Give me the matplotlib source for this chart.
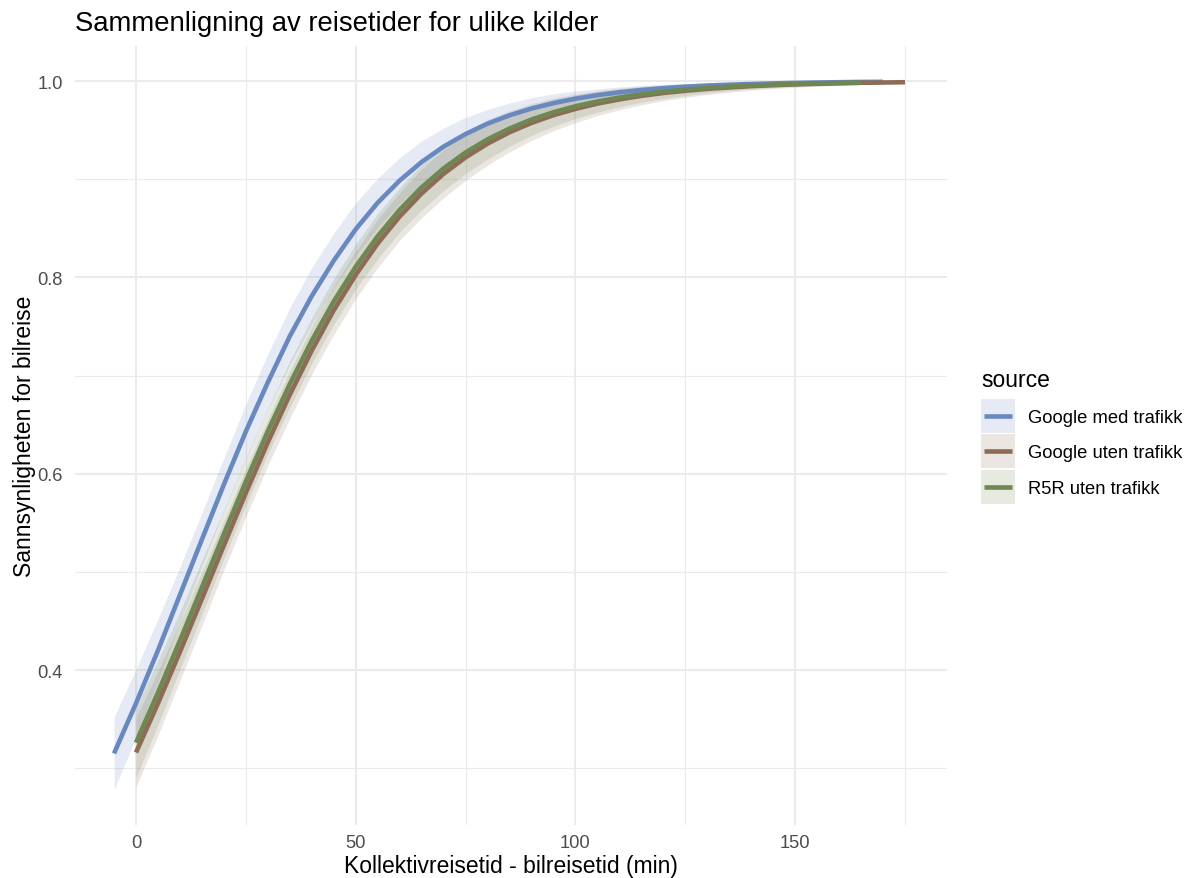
import matplotlib
matplotlib.use("Agg")
import matplotlib.pyplot as plt
from matplotlib.patches import Rectangle
from matplotlib.lines import Line2D
import numpy as np

plt.rcParams['font.family'] = ['Liberation Sans', 'DejaVu Sans']

title = "Sammenligning av reisetider for ulike kilder"
x_label = "Kollektivreisetid - bilreisetid (min)"
y_label = "Sannsynligheten for bilreise"
legend_title = "source"
sources = ["Google med trafikk", "Google uten trafikk", "R5R uten trafikk"]
colors = ["#6A88C0", "#8D6B55", "#6F8752"]

# Google med trafikk
x_gmt = [-5, 0, 5, 10, 15, 20, 25, 30, 35, 40, 45, 50, 55, 60, 65, 70, 75, 80, 85,
         90, 95, 100, 105, 110, 115, 120, 125, 130, 135, 140, 145, 150, 155, 160, 165, 170]
y_gmt = [0.315, 0.366, 0.420, 0.4765, 0.533, 0.589, 0.643, 0.693, 0.740, 0.781, 0.817,
         0.849, 0.876, 0.8986, 0.9175, 0.9332, 0.946, 0.9566, 0.9651, 0.972, 0.9775,
         0.982, 0.9856, 0.9885, 0.9908, 0.9927, 0.9942, 0.9954, 0.9963, 0.9970, 0.9976,
         0.9981, 0.9985, 0.9988, 0.9991, 0.9992]
lo_gmt = [0.278, 0.331, 0.388, 0.448, 0.506, 0.562, 0.615, 0.665, 0.711, 0.752, 0.789,
          0.822, 0.851, 0.875, 0.896, 0.914, 0.929, 0.942, 0.9525, 0.961, 0.968,
          0.974, 0.979, 0.983, 0.986, 0.9887, 0.9909, 0.9927, 0.9940, 0.9951, 0.9960,
          0.9968, 0.9974, 0.9979, 0.9984, 0.9986]
hi_gmt = [0.352, 0.401, 0.452, 0.505, 0.560, 0.616, 0.671, 0.722, 0.769, 0.810, 0.845,
          0.876, 0.901, 0.922, 0.939, 0.952, 0.963, 0.971, 0.9777, 0.983, 0.987,
          0.990, 0.992, 0.994, 0.9956, 0.9967, 0.9975, 0.9981, 0.9986, 0.9989, 0.9992,
          0.9994, 0.9996, 0.9997, 0.9998, 0.9998]

# Google uten trafikk
x_gut = [0, 5, 10, 15, 20, 25, 30, 35, 40, 45, 50, 55, 60, 65, 70, 75, 80, 85, 90,
         95, 100, 105, 110, 115, 120, 125, 130, 135, 140, 145, 150, 155, 160, 165, 170, 175]
y_gut = [0.3160, 0.3660, 0.4185, 0.4725, 0.5270, 0.5805, 0.6320, 0.6805, 0.7255, 0.7665,
         0.8025, 0.8345, 0.8620, 0.8855, 0.9055, 0.9222, 0.9362, 0.9478, 0.9573, 0.9652,
         0.9716, 0.9770, 0.9813, 0.9849, 0.9878, 0.9901, 0.9920, 0.9935, 0.9948, 0.9958,
         0.9966, 0.9972, 0.9977, 0.9982, 0.9985, 0.9988]
lo_gut = [0.2810, 0.3335, 0.3893, 0.4451, 0.5021, 0.5561, 0.6086, 0.6564, 0.7014, 0.7420,
          0.7784, 0.8099, 0.8378, 0.8607, 0.8811, 0.8988, 0.9143, 0.9279, 0.9395, 0.9493,
          0.9576, 0.9648, 0.9707, 0.9758, 0.9800, 0.9834, 0.9863, 0.9886, 0.9907, 0.9923,
          0.9936, 0.9947, 0.9956, 0.9965, 0.9970, 0.9976]
hi_gut = [0.3510, 0.3985, 0.4477, 0.4999, 0.5519, 0.6049, 0.6554, 0.7046, 0.7496, 0.7910,
          0.8266, 0.8591, 0.8862, 0.9103, 0.9299, 0.9456, 0.9581, 0.9677, 0.9751, 0.9811,
          0.9856, 0.9892, 0.9919, 0.9940, 0.9956, 0.9968, 0.9977, 0.9984, 0.9989, 0.9993,
          0.9995, 0.9997, 0.9998, 0.9999, 0.9999, 0.9999]

# R5R uten trafikk
x_r5r = [0, 5, 10, 15, 20, 25, 30, 35, 40, 45, 50, 55, 60, 65, 70, 75, 80, 85, 90,
         95, 100, 105, 110, 115, 120, 125, 130, 135, 140, 145, 150, 155, 160, 165]
y_r5r = [0.3260, 0.3770, 0.4300, 0.4842, 0.5385, 0.5920, 0.6432, 0.6912, 0.7355, 0.7755,
         0.8108, 0.8419, 0.8688, 0.8917, 0.9110, 0.9272, 0.9406, 0.9516, 0.9608, 0.9682,
         0.9743, 0.9792, 0.9832, 0.9865, 0.9891, 0.9912, 0.9929, 0.9943, 0.9954, 0.9963,
         0.9970, 0.9976, 0.9981, 0.9984]
lo_r5r = [0.2907, 0.3441, 0.4006, 0.4567, 0.5136, 0.5678, 0.6203, 0.6677, 0.7122, 0.7521,
          0.7879, 0.8187, 0.8461, 0.8686, 0.8884, 0.9057, 0.9205, 0.9335, 0.9446, 0.9539,
          0.9618, 0.9683, 0.9738, 0.9784, 0.9822, 0.9853, 0.9879, 0.9901, 0.9918, 0.9933,
          0.9945, 0.9955, 0.9964, 0.9969]
hi_r5r = [0.3613, 0.4099, 0.4594, 0.5117, 0.5634, 0.6162, 0.6661, 0.7147, 0.7588, 0.7989,
          0.8337, 0.8651, 0.8915, 0.9148, 0.9336, 0.9487, 0.9607, 0.9697, 0.9770, 0.9825,
          0.9868, 0.9901, 0.9926, 0.9946, 0.9960, 0.9971, 0.9979, 0.9985, 0.9990, 0.9993,
          0.9995, 0.9997, 0.9998, 0.9999]

x_ticks = [0, 50, 100, 150]
x_minor = [25, 75, 125, 175]
y_ticks = [0.4, 0.6, 0.8, 1.0]
y_minor = [0.3, 0.5, 0.7, 0.9]

series = [
    (x_gmt, y_gmt, lo_gmt, hi_gmt),
    (x_gut, y_gut, lo_gut, hi_gut),
    (x_r5r, y_r5r, lo_r5r, hi_r5r),
]

W, H = 1189, 879
fig = plt.figure(figsize=(W / 100, H / 100), dpi=100)
ax = fig.add_axes([75 / W, 1 - 826 / H, (947 - 75) / W, (826 - 47) / H])

ax.set_xlim(-13.88, 184.57)
ax.set_ylim(0.2421, 1.0357)

for v in x_minor:
    ax.axvline(v, color="#EBEBEB", lw=0.8, zorder=0)
for v in y_minor:
    ax.axhline(v, color="#EBEBEB", lw=0.8, zorder=0)
for v in x_ticks:
    ax.axvline(v, color="#EBEBEB", lw=1.5, zorder=0)
for v in y_ticks:
    ax.axhline(v, color="#EBEBEB", lw=1.5, zorder=0)

alpha_fill = 0.17
lw_line = 3.3
for (xs, ys, lo, hi), c in zip(series, colors):
    ax.fill_between(xs, lo, hi, color=c, alpha=alpha_fill, lw=0, zorder=1)
for (xs, ys, lo, hi), c in zip(series, colors):
    ax.plot(xs, ys, color=c, lw=lw_line, solid_capstyle="butt",
            solid_joinstyle="round", zorder=2)

ax.set_xticks(x_ticks)
ax.set_xticklabels([str(v) for v in x_ticks])
ax.set_yticks(y_ticks)
ax.set_yticklabels([f"{v:.1f}" for v in y_ticks])
ax.tick_params(axis="both", length=0, labelsize=13.2, labelcolor="#4D4D4D")
ax.tick_params(axis="y", pad=8.6)
ax.tick_params(axis="x", pad=6.5)
for s in ax.spines.values():
    s.set_visible(False)

ax.set_xlabel(x_label, fontsize=16.5, labelpad=2)
ax.set_ylabel(y_label, fontsize=16.5, labelpad=1.5)
fig.text(75 / W, 1 - 31 / H, title, fontsize=19.8, ha="left", va="baseline")

# legend (ggplot-style keys)
fig.text(981 / W, 1 - 387 / H, legend_title, fontsize=16.5, ha="left", va="baseline")
row_centers = [417, 452, 488]
for lab, c, yc in zip(sources, colors, row_centers):
    fig.add_artist(Rectangle((981 / W, 1 - (yc + 17) / H), 34 / W, 34 / H,
                             transform=fig.transFigure, facecolor=c,
                             alpha=alpha_fill, edgecolor="none"))
    fig.add_artist(Line2D([984 / W, 1012 / W], [1 - yc / H, 1 - yc / H],
                          transform=fig.transFigure, color=c, lw=lw_line,
                          solid_capstyle="butt"))
    fig.text(1028 / W, 1 - yc / H, lab, fontsize=13.2, ha="left", va="center_baseline")

fig.savefig("out.png", dpi=100, facecolor="white")
